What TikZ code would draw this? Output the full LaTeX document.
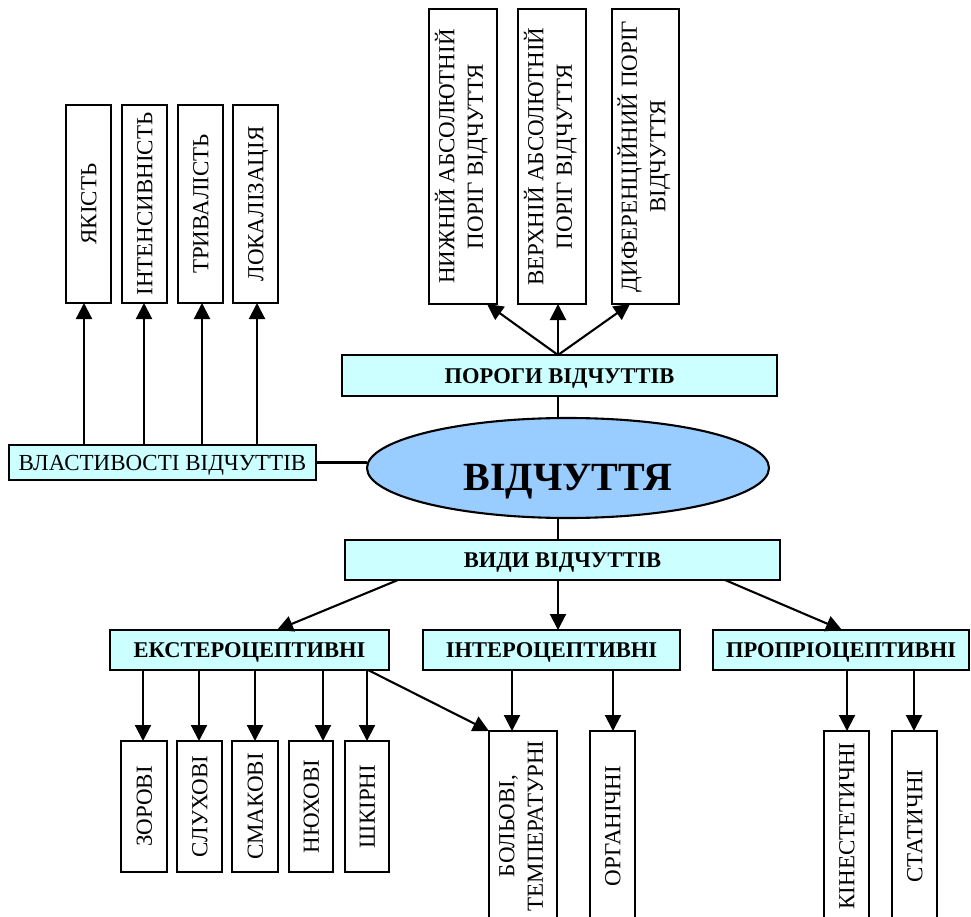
\documentclass[tikz,border=0pt]{standalone}
\usepackage{fontspec}
\setmainfont{Liberation Serif}
\usepackage{graphicx}
\usetikzlibrary{arrows.meta,shapes.geometric}
\definecolor{boxcyan}{HTML}{CCFFFF}
\definecolor{ellblue}{HTML}{99CCFF}
\newcommand\vtxt[1]{\rotatebox{90}{\raisebox{0pt}[15.5pt][0pt]{#1}}}
\newcommand\vtwo[2]{\rotatebox{90}{\begin{tabular}{@{}c@{}}#1\\#2\end{tabular}}}
\begin{document}
\begin{tikzpicture}[x=1pt,y=-1pt,
  every node/.style={inner sep=0pt, outer sep=0pt},
  hbox/.style={draw, line width=2.1pt, fill=boxcyan, font=\fontsize{22.5}{26}\selectfont\bfseries, text height=15pt, text depth=0pt},
  vbox/.style={draw, line width=2.1pt, fill=white, font=\fontsize{23}{28.5}\selectfont},
  conn/.style={line width=2.1pt},
  arr/.style={line width=2.1pt, -{Triangle[width=16pt,length=16pt]}}]
\useasboundingbox (0,0) rectangle (971,917);
\clip (0,0) rectangle (971,917);

% top-left property boxes
\node[vbox, minimum width=45, minimum height=198] (yak) at (88.5,204) {\vtxt{ЯКІСТЬ}};
\node[vbox, minimum width=45, minimum height=198] (inten) at (144.5,204) {\vtxt{ІНТЕНСИВНІСТЬ}};
\node[vbox, minimum width=45, minimum height=198] (tryv) at (200.5,204) {\vtxt{ТРИВАЛІСТЬ}};
\node[vbox, minimum width=45, minimum height=198] (lok) at (255.5,204) {\vtxt{ЛОКАЛІЗАЦІЯ}};
\node[hbox, font=\fontsize{23}{26}\selectfont, minimum width=307, minimum height=35] (vl) at (162.5,462.5) {ВЛАСТИВОСТІ ВІДЧУТТІВ};

% thresholds
\node[vbox, minimum width=68, minimum height=295] (nyzh) at (463,156.5) {\vtwo{НИЖНІЙ АБСОЛЮТНІЙ}{ПОРІГ ВІДЧУТТЯ}};
\node[vbox, minimum width=68, minimum height=295] (verkh) at (552,156.5) {\vtwo{ВЕРХНІЙ АБСОЛЮТНІЙ}{ПОРІГ ВІДЧУТТЯ}};
\node[vbox, minimum width=67, minimum height=295] (dyf) at (645.5,156.5) {\vtwo{ДИФЕРЕНЦІЙНИЙ ПОРІГ}{ВІДЧУТТЯ}};
\node[hbox, minimum width=435, minimum height=41] (por) at (559.5,375.5) {ПОРОГИ ВІДЧУТТІВ};

% centre
\node[ellipse, draw, line width=2.1pt, fill=ellblue, minimum width=402, minimum height=100] (ell) at (568,468) {};
\node[font=\fontsize{40}{48}\selectfont\bfseries, text height=27pt, text depth=0pt] (ellt) at (568,477) {ВІДЧУТТЯ};

% kinds
\node[hbox, minimum width=435, minimum height=40] (vydy) at (562.5,560) {ВИДИ ВІДЧУТТІВ};
\node[hbox, minimum width=279, minimum height=40] (ek) at (249.5,650) {ЕКСТЕРОЦЕПТИВНІ};
\node[hbox, minimum width=257, minimum height=40] (in) at (551.5,650) {ІНТЕРОЦЕПТИВНІ};
\node[hbox, minimum width=256, minimum height=40] (pr) at (841,650) {ПРОПРІОЦЕПТИВНІ};

% bottom boxes
\node[vbox, minimum width=46, minimum height=131] (zor) at (144,806.5) {\vtxt{ЗОРОВІ}};
\node[vbox, minimum width=45, minimum height=131] (slu) at (199.5,806.5) {\vtxt{СЛУХОВІ}};
\node[vbox, minimum width=46, minimum height=131] (sma) at (255,806.5) {\vtxt{СМАКОВІ}};
\node[vbox, minimum width=44, minimum height=131] (nyu) at (311,806.5) {\vtxt{НЮХОВІ}};
\node[vbox, minimum width=44, minimum height=131] (shk) at (367,806.5) {\vtxt{ШКІРНІ}};
\node[vbox, minimum width=68, minimum height=190] (bol) at (523,826) {\vtwo{БОЛЬОВІ,}{ТЕМПЕРАТУРНІ}};
\node[vbox, minimum width=45, minimum height=190] (org) at (612.5,826) {\vtxt{ОРГАНІЧНІ}};
\node[vbox, minimum width=45, minimum height=190] (kin) at (846.5,826) {\vtxt{КІНЕСТЕТИЧНІ}};
\node[vbox, minimum width=45, minimum height=190] (sta) at (914.5,826) {\vtxt{СТАТИЧНІ}};

% connectors: properties
\draw[arr] (vl.north -| 84,0) -- (yak.south -| 84,0);
\draw[arr] (vl.north -| 144,0) -- (inten.south -| 144,0);
\draw[arr] (vl.north -| 202,0) -- (tryv.south -| 202,0);
\draw[arr] (vl.north -| 257,0) -- (lok.south -| 257,0);
\draw[conn] (vl.east) -- (vl.east -| ell.west);

% thresholds
\draw[conn] (por.south -| 558,0) -- (ell.north -| 558,0);
\draw[arr] (por.north -| 558,0) -- (nyzh.south -| 487,0);
\draw[arr] (por.north -| 558,0) -- (verkh.south -| 558,0);
\draw[arr] (por.north -| 558,0) -- (dyf.south -| 630,0);

% kinds
\draw[conn] (ell.south -| 558,0) -- (vydy.north -| 558,0);
\draw[arr] (vydy.south -| 398,0) -- (ek.north -| 277,0);
\draw[arr] (vydy.south -| 558,0) -- (in.north -| 558,0);
\draw[arr] (vydy.south -| 725,0) -- (pr.north -| 842,0);

% exteroceptive
\draw[arr] (ek.south -| 143,0) -- (zor.north -| 143,0);
\draw[arr] (ek.south -| 199,0) -- (slu.north -| 199,0);
\draw[arr] (ek.south -| 255,0) -- (sma.north -| 255,0);
\draw[arr] (ek.south -| 323,0) -- (nyu.north -| 323,0);
\draw[arr] (ek.south -| 367,0) -- (shk.north -| 367,0);
\draw[arr] (ek.south -| 368,0) -- (bol.north west);

% interoceptive
\draw[arr] (in.south -| 512,0) -- (bol.north -| 512,0);
\draw[arr] (in.south -| 613,0) -- (org.north -| 613,0);

% proprioceptive
\draw[arr] (pr.south -| 847,0) -- (kin.north -| 847,0);
\draw[arr] (pr.south -| 914,0) -- (sta.north -| 914,0);
\end{tikzpicture}
\end{document}
